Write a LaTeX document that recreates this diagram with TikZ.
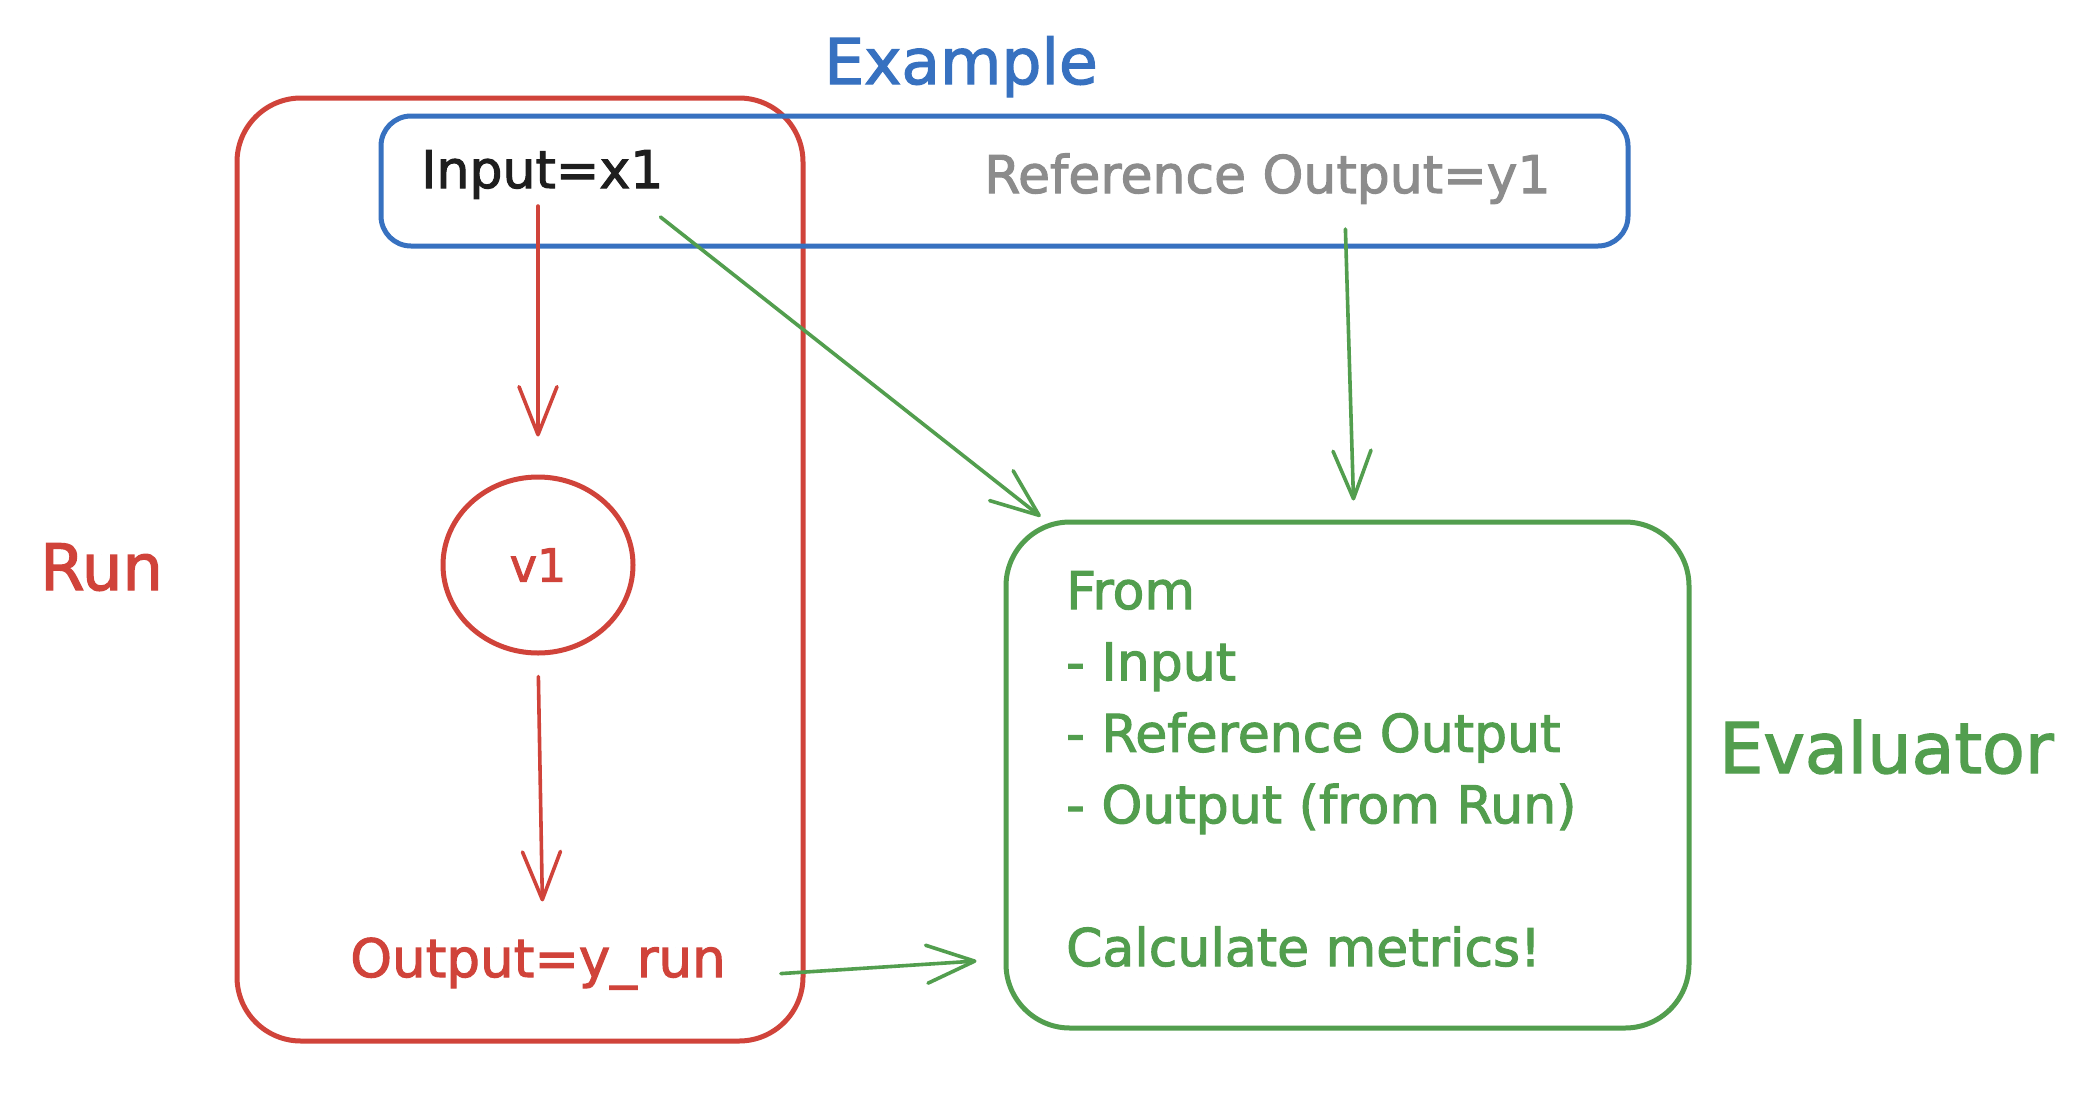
\documentclass[tikz,border=0pt]{standalone}
\usepackage{fontspec}
\setmainfont{DejaVu Sans}[FakeBold=2]
\usetikzlibrary{arrows.meta,calc,shapes.geometric}
\definecolor{exred}{RGB}{208,67,58}
\definecolor{exblue}{RGB}{55,113,192}
\definecolor{exgreen}{RGB}{82,158,78}
\definecolor{exgray}{RGB}{140,140,140}
\definecolor{exblack}{RGB}{30,30,30}
\newcommand{\fs}[1]{\fontsize{#1}{#1}\selectfont}
\begin{document}
\begin{tikzpicture}[x=1pt,y=-1pt,
  txt/.style={inner sep=0pt, anchor=base west},
  frame/.style={line width=5pt, rounded corners=#1, inner sep=0pt},
  conn/.style={line width=3.6pt, line cap=round, line join=round, -{Straight Barb[length=48pt,width=38pt,round]}},
]
\useasboundingbox[fill=white] (0,0) rectangle (2098,1098);

% frames
\node[frame=64pt, draw=exred, minimum width=566pt, minimum height=943pt] (run) at (520,569.5) {};
\node[frame=30pt, draw=exblue, minimum width=1247pt, minimum height=130pt] (ex) at (1004.5,181) {};
\node[frame=64pt, draw=exgreen, minimum width=683pt, minimum height=506pt] (eval) at (1347.5,775) {};

% labels
\node[inner sep=0pt, anchor=base, text=exblue, font=\fs{63}] (exlabel) at (961,84) {Example};
\node[txt, text=exred, font=\fs{64}] (runlabel) at (40,590) {Run};
\node[txt, text=exgreen, font=\fs{70}] (evallabel) at (1719,773) {Evaluator};

% example contents
\node[txt, text=exblack, font=\fs{52}] (inp) at (421,188) {Input=x1};
\node[txt, text=exgray, font=\fs{52}] (refout) at (984,193) {Reference Output=y1};

% run contents
\node[ellipse, draw=exred, line width=5pt, inner sep=0pt, minimum width=190pt, minimum height=176pt, text=exred, font=\fs{46}] (v1) at (538,565) {v1};
\node[inner sep=0pt, anchor=base, text=exred, font=\fs{53}] (out) at (538,977) {Output=y\_run};

% evaluator contents
\node[txt, text=exgreen, font=\fs{52}] (ev1) at (1066,609) {From};
\node[txt, text=exgreen, font=\fs{52}] (ev2) at (1066,680.4) {- Input};
\node[txt, text=exgreen, font=\fs{52}] (ev3) at (1066,751.8) {- Reference Output};
\node[txt, text=exgreen, font=\fs{52}] (ev4) at (1066,823.2) {- Output (from Run)};
\node[txt, text=exgreen, font=\fs{52}] (ev5) at (1066,966) {Calculate metrics!};

% connectors
\draw[conn, exred, shorten <=7pt, shorten >=38pt] (v1.north |- inp.south) -- (v1.north);
\draw[conn, exred, shorten <=21pt, shorten >=36pt] (v1.south) -- ($(out.north)+(5,0)$);
\draw[conn, exgreen] ($(inp.south east)+(-3,18)$) -- ($(eval.north west)+(37,-3)$);
\draw[conn, exgreen] ($(refout.south)+(78,25)$) -- ($(eval.north)+(6,-19)$);
\draw[conn, exgreen] ($(out.east)+(55,10)$) -- ($(eval.west)+(-27,186)$);
\end{tikzpicture}
\end{document}
